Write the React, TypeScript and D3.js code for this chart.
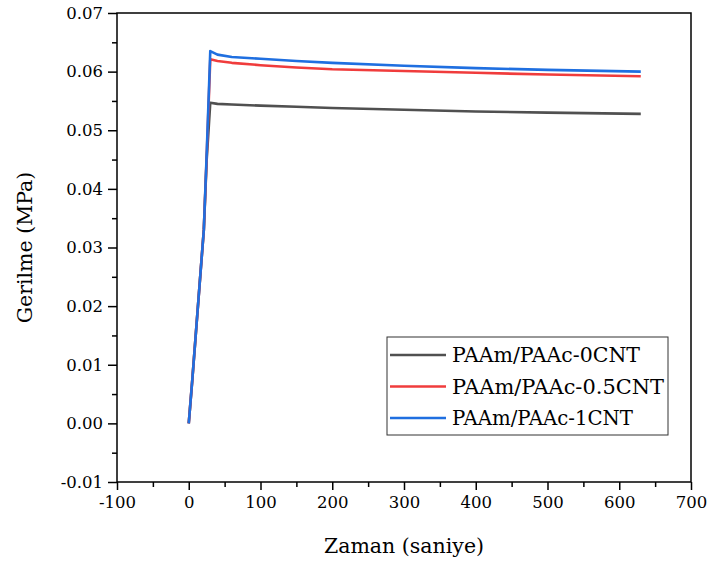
import React, { useEffect, useRef } from 'react';
import * as d3 from 'd3';

// zaman (s) ve gerilme (MPa) okumalari
const timeRise = [0, 5, 10, 15, 21, 25];
const timeRelax = [30, 40, 60, 100, 150, 200, 300, 400, 500, 630];

const series = [
  { name: 'PAAm/PAAc-0CNT', color: '#505050',
    rise: [0, 0.0075, 0.0155, 0.0235, 0.033, 0.045],
    relax: [0.0547, 0.0545, 0.0544, 0.0542, 0.054, 0.0538, 0.0535, 0.0532, 0.053, 0.0528] },
  { name: 'PAAm/PAAc-0.5CNT', color: '#f03c3c',
    rise: [0, 0.0075, 0.0155, 0.0235, 0.033, 0.0455],
    relax: [0.0621, 0.0618, 0.0615, 0.0611, 0.0607, 0.0604, 0.0601, 0.0598, 0.0595, 0.0592] },
  { name: 'PAAm/PAAc-1CNT', color: '#1f6fe0',
    rise: [0, 0.0075, 0.0155, 0.0235, 0.033, 0.046],
    relax: [0.0635, 0.0629, 0.0625, 0.0622, 0.0618, 0.0615, 0.061, 0.0606, 0.0603, 0.06] },
];

const xTicks = [-100, 0, 100, 200, 300, 400, 500, 600, 700];
const yTicks = [-0.01, 0, 0.01, 0.02, 0.03, 0.04, 0.05, 0.06, 0.07];

const W = 708, H = 567;
const m = { left: 117, right: 691, top: 13, bottom: 482 };
const FONT = '"DejaVu Serif", serif';

export default function App() {
  const ref = useRef<SVGSVGElement>(null);

  useEffect(() => {
    const svg = d3.select(ref.current);
    svg.selectAll('*').remove();

    const x = d3.scaleLinear().domain([-100, 700]).range([m.left, m.right]);
    const y = d3.scaleLinear().domain([-0.01, 0.07]).range([m.bottom, m.top]);

    // minor ticks
    const xMinor = d3.range(-50, 700, 100);
    const yMinor = d3.range(-0.005, 0.07, 0.01);

    const gx = svg.append('g').attr('transform', `translate(0,${m.bottom})`);
    gx.call(d3.axisBottom(x).tickValues(xMinor).tickSize(5).tickFormat(() => ''));
    gx.append('g').call(d3.axisBottom(x).tickValues(xTicks).tickSize(8).tickPadding(6)
      .tickFormat(d => String(d)));
    const gy = svg.append('g').attr('transform', `translate(${m.left},0)`);
    gy.call(d3.axisLeft(y).tickValues(yMinor).tickSize(5).tickFormat(() => ''));
    gy.append('g').call(d3.axisLeft(y).tickValues(yTicks).tickSize(9).tickPadding(5)
      .tickFormat(d => (+d).toFixed(2)));

    svg.selectAll('.domain').remove();
    svg.selectAll('.tick line').attr('stroke', '#000').attr('stroke-width', 1.5);
    svg.selectAll('.tick text').attr('fill', '#000').style('font-family', FONT).style('font-size', '16.5px');

    // frame
    svg.append('rect')
      .attr('x', m.left).attr('y', m.top)
      .attr('width', m.right - m.left).attr('height', m.bottom - m.top)
      .attr('fill', 'none').attr('stroke', '#000').attr('stroke-width', 1.5);

    const line = d3.line<[number, number]>().x(d => x(d[0])).y(d => y(d[1]));

    series.forEach(s => {
      const pts: [number, number][] = [
        ...timeRise.map((t, i) => [t, s.rise[i]] as [number, number]),
        ...timeRelax.map((t, i) => [t, s.relax[i]] as [number, number]),
      ];
      svg.append('path').datum(pts)
        .attr('d', line)
        .attr('fill', 'none')
        .attr('stroke', s.color)
        .attr('stroke-width', 2.6)
        .attr('stroke-linejoin', 'round');
    });

    // legend
    const lg = svg.append('g');
    lg.append('rect').attr('x', 387).attr('y', 337).attr('width', 281).attr('height', 98)
      .attr('fill', '#fff').attr('stroke', '#333').attr('stroke-width', 1);
    series.forEach((s, i) => {
      const cy = 355 + i * 31.5;
      lg.append('line').attr('x1', 390).attr('x2', 446).attr('y1', cy).attr('y2', cy)
        .attr('stroke', s.color).attr('stroke-width', 2.6);
      lg.append('text').attr('x', 452).attr('y', cy).attr('dy', '0.35em')
        .attr('textLength', [188, 212, 181][i]).attr('lengthAdjust', 'spacingAndGlyphs')
        .style('font-family', FONT).style('font-size', '20px').text(s.name);
    });

    svg.append('text').attr('x', (m.left + m.right) / 2).attr('y', 553)
      .attr('text-anchor', 'middle').style('font-family', FONT).style('font-size', '20.5px')
      .text('Zaman (saniye)');
    svg.append('text').attr('transform', `translate(32,${(m.top + m.bottom) / 2}) rotate(-90)`)
      .attr('text-anchor', 'middle').style('font-family', FONT).style('font-size', '20.5px')
      .text('Gerilme (MPa)');
  }, []);

  return (
    <svg ref={ref} width={W} height={H}
      style={{ position: 'absolute', left: 0, top: 0, background: '#fff' }} />
  );
}
